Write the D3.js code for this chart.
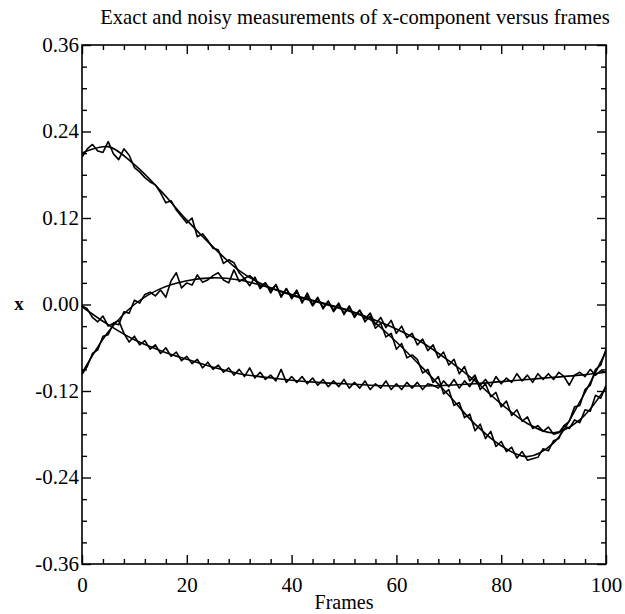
<!DOCTYPE html>
<html><head><meta charset="utf-8">
<script src="https://cdn.jsdelivr.net/npm/d3@7"></script>
<style>body{margin:0;background:#fff}svg{display:block}text{font-family:"Liberation Serif","Times New Roman",serif;fill:#000}</style>
</head><body>
<script>
const title = "Exact and noisy measurements of x-component versus frames";
const xLabel = "Frames";
const yLabel = "x";
const xTicksMajor = [0, 20, 40, 60, 80, 100];
const yTicksMajor = [-0.36, -0.24, -0.12, 0, 0.12, 0.24, 0.36];
const yTickLabels = ["-0.36", "-0.24", "-0.12", "0.00", "0.12", "0.24", "0.36"];

// exact curves sampled every 5 frames
const exactFrames = [0,5,10,15,20,25,30,35,40,45,50,55,60,65,70,75,80,85,90,95,100];
const exactA = [0.210,0.219,0.194,0.158,0.117,0.080,0.047,0.026,0.013,0.003,-0.007,-0.021,-0.052,-0.088,-0.126,-0.166,-0.196,-0.211,-0.192,-0.135,-0.065];
const exactB = [-0.095,-0.038,0.000,0.022,0.033,0.037,0.034,0.025,0.014,0.004,-0.006,-0.019,-0.034,-0.053,-0.078,-0.106,-0.138,-0.165,-0.178,-0.160,-0.115];
const exactC = [-0.003,-0.028,-0.049,-0.064,-0.076,-0.087,-0.096,-0.101,-0.105,-0.108,-0.110,-0.112,-0.113,-0.113,-0.112,-0.110,-0.107,-0.104,-0.101,-0.098,-0.094];

// noisy measurements, one per frame 0..100
const noisyA = [0.204,0.216,0.222,0.213,0.211,0.226,0.209,0.201,0.216,0.207,
0.190,0.184,0.176,0.170,0.166,0.155,0.141,0.144,0.131,0.122,
0.113,0.120,0.094,0.098,0.089,0.078,0.076,0.057,0.062,0.058,
0.044,0.036,0.040,0.034,0.025,0.030,0.020,0.027,0.010,0.022,
0.008,0.018,0.004,0.012,-0.002,0.008,-0.004,0.005,-0.010,0.000,
-0.012,-0.004,-0.018,-0.008,-0.024,-0.016,-0.033,-0.026,-0.045,-0.040,
-0.062,-0.054,-0.074,-0.070,-0.076,-0.095,-0.090,-0.108,-0.100,-0.124,
-0.118,-0.140,-0.136,-0.157,-0.152,-0.175,-0.166,-0.186,-0.176,-0.197,
-0.190,-0.204,-0.198,-0.213,-0.204,-0.216,-0.214,-0.212,-0.200,-0.203,
-0.189,-0.186,-0.168,-0.162,-0.142,-0.140,-0.118,-0.112,-0.090,-0.084,
-0.062];
const noisyB = [-0.097,-0.086,-0.068,-0.063,-0.044,-0.042,-0.026,-0.028,-0.010,-0.012,
0.006,0.002,0.014,0.017,0.012,0.020,0.010,0.033,0.044,0.023,
0.030,0.027,0.041,0.031,0.034,0.040,0.044,0.034,0.030,0.048,
0.032,0.036,0.026,0.038,0.022,0.030,0.016,0.028,0.012,0.022,
0.010,0.020,0.002,0.016,0.000,0.010,-0.006,0.004,-0.008,0.002,
-0.014,-0.002,-0.016,-0.008,-0.020,-0.012,-0.028,-0.018,-0.032,-0.022,
-0.040,-0.030,-0.046,-0.040,-0.056,-0.048,-0.064,-0.056,-0.074,-0.066,
-0.084,-0.076,-0.096,-0.086,-0.106,-0.098,-0.118,-0.110,-0.128,-0.122,
-0.142,-0.134,-0.154,-0.146,-0.162,-0.156,-0.172,-0.168,-0.176,-0.170,
-0.180,-0.178,-0.168,-0.172,-0.160,-0.164,-0.146,-0.148,-0.126,-0.130,
-0.112];
const noisyC = [-0.002,-0.006,-0.018,-0.024,-0.016,-0.030,-0.026,-0.022,-0.040,-0.052,
-0.044,-0.056,-0.050,-0.062,-0.056,-0.068,-0.060,-0.072,-0.066,-0.078,
-0.072,-0.082,-0.076,-0.088,-0.080,-0.090,-0.084,-0.094,-0.088,-0.098,
-0.090,-0.100,-0.088,-0.102,-0.094,-0.104,-0.098,-0.106,-0.090,-0.108,
-0.100,-0.108,-0.100,-0.110,-0.102,-0.112,-0.104,-0.114,-0.106,-0.114,
-0.104,-0.116,-0.108,-0.116,-0.106,-0.118,-0.110,-0.116,-0.106,-0.118,
-0.110,-0.118,-0.108,-0.116,-0.108,-0.118,-0.110,-0.112,-0.116,-0.106,
-0.114,-0.104,-0.116,-0.106,-0.114,-0.102,-0.112,-0.104,-0.114,-0.100,
-0.110,-0.102,-0.108,-0.096,-0.106,-0.098,-0.108,-0.096,-0.104,-0.096,
-0.104,-0.094,-0.100,-0.112,-0.098,-0.094,-0.100,-0.090,-0.098,-0.092,
-0.094];

const W = 625, H = 614;
const L = 82, R = 606, T = 45, B = 564;
const svg = d3.select("body").append("svg").attr("width", W).attr("height", H);
const x = d3.scaleLinear().domain([0, 100]).range([L, R]);
const y = d3.scaleLinear().domain([-0.36, 0.36]).range([B, T]);

const majLen = 9, minLen = 5;
const xMinor = d3.range(0, 101, 4).filter(v => v % 20 !== 0);
const yMinor = d3.range(-36, 37, 3).filter(v => v % 12 !== 0).map(v => v / 100);

function styleAxis(g) {
  g.select(".domain").remove();
  g.selectAll("line").attr("stroke", "#000").attr("stroke-width", 1.4);
}
// bottom
svg.append("g").attr("transform", `translate(0,${B})`)
  .call(d3.axisBottom(x).tickValues(xTicksMajor).tickSize(-majLen).tickPadding(8).tickFormat(d3.format("d")))
  .call(styleAxis)
  .call(g => g.selectAll("text").attr("font-size", 21).attr("dy", "0.78em").attr("y", 12));
svg.append("g").attr("transform", `translate(0,${B})`)
  .call(d3.axisBottom(x).tickValues(xMinor).tickSize(-minLen).tickFormat(""))
  .call(styleAxis);
// top
svg.append("g").attr("transform", `translate(0,${T})`)
  .call(d3.axisTop(x).tickValues(xTicksMajor).tickSize(-majLen).tickFormat(""))
  .call(styleAxis);
svg.append("g").attr("transform", `translate(0,${T})`)
  .call(d3.axisTop(x).tickValues(xMinor).tickSize(-minLen).tickFormat(""))
  .call(styleAxis);
// left
svg.append("g").attr("transform", `translate(${L},0)`)
  .call(d3.axisLeft(y).tickValues(yTicksMajor).tickSize(-majLen).tickPadding(3)
    .tickFormat((d, i) => yTickLabels[i]))
  .call(styleAxis)
  .call(g => g.selectAll("text").attr("font-size", 21).attr("dy", "0.3em"));
svg.append("g").attr("transform", `translate(${L},0)`)
  .call(d3.axisLeft(y).tickValues(yMinor).tickSize(-minLen).tickFormat(""))
  .call(styleAxis);
// right
svg.append("g").attr("transform", `translate(${R},0)`)
  .call(d3.axisRight(y).tickValues(yTicksMajor).tickSize(-majLen).tickFormat(""))
  .call(styleAxis);
svg.append("g").attr("transform", `translate(${R},0)`)
  .call(d3.axisRight(y).tickValues(yMinor).tickSize(-minLen).tickFormat(""))
  .call(styleAxis);

svg.append("rect").attr("x", L).attr("y", T).attr("width", R - L).attr("height", B - T)
  .attr("fill", "none").attr("stroke", "#000").attr("stroke-width", 1.6);

const clip = svg.append("clipPath").attr("id", "clip").append("rect")
  .attr("x", L).attr("y", T).attr("width", R - L).attr("height", B - T);
const plot = svg.append("g").attr("clip-path", "url(#clip)");

const smooth = d3.line().x((d, i) => x(exactFrames[i])).y(d => y(d)).curve(d3.curveCatmullRom.alpha(0.5));
const noisy = d3.line().x((d, i) => x(i)).y(d => y(d));

[exactA, exactB, exactC].forEach(s => plot.append("path").attr("d", smooth(s))
  .attr("fill", "none").attr("stroke", "#000").attr("stroke-width", 1.6));
[noisyA, noisyB, noisyC].forEach(s => plot.append("path").attr("d", noisy(s))
  .attr("fill", "none").attr("stroke", "#000").attr("stroke-width", 1.6).attr("stroke-linejoin", "round"));

svg.append("text").attr("x", 355).attr("y", 24).attr("text-anchor", "middle")
  .attr("font-size", 20.6).text(title);
svg.append("text").attr("x", (L + R) / 2).attr("y", 609).attr("text-anchor", "middle")
  .attr("font-size", 20).text(xLabel);
svg.append("text").attr("x", 19).attr("y", 310).attr("text-anchor", "middle")
  .attr("font-size", 19).attr("font-weight", "bold").text(yLabel);
</script>
</body></html>
